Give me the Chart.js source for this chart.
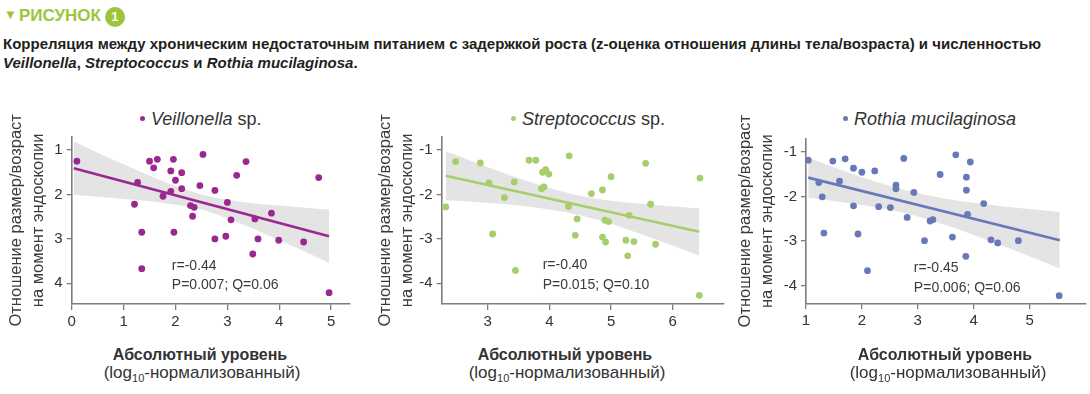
<!DOCTYPE html>
<html lang="ru">
<head>
<meta charset="utf-8">
<script src="https://cdn.jsdelivr.net/npm/chart.js@4.4.1/dist/chart.umd.min.js"></script>
<style>
  body { margin: 0; width: 1090px; height: 394px; background: #fff; position: relative; overflow: hidden; font-family: "Liberation Sans", Arial, sans-serif; color: #2b2b2b; }
  .head { position: absolute; left: 4px; top: 5px; color: #9dc53c; font-weight: bold; font-size: 17px; line-height: 20px; }
  .head .tri { font-size: 13px; vertical-align: 2px; margin-right: 2px; }
  .head .num { display: inline-block; width: 20px; height: 20px; border-radius: 50%; background: #9dc53c; color: #fff; font-size: 13px; line-height: 20px; text-align: center; margin-left: 4px; vertical-align: 0; }
  .caption { position: absolute; left: 3px; top: 34px; font-weight: bold; font-size: 15px; line-height: 19px; color: #231f20; white-space: nowrap; }
  .ptitle { position: absolute; top: 108px; font-size: 18px; line-height: 22px; color: #333; white-space: nowrap; }
  .ptitle .dot { display: inline-block; width: 5px; height: 5px; border-radius: 50%; margin-right: 6px; vertical-align: 4px; }
  .xt { position: absolute; width: 300px; text-align: center; color: #333; white-space: nowrap; }
  .xt1 { top: 345px; font-weight: bold; font-size: 16px; line-height: 20px; }
  .xt2 { top: 363px; font-size: 17px; line-height: 20px; }
  .xt2 sub { font-size: 11px; vertical-align: -4px; line-height: 0; }
  canvas { position: absolute; top: 95px; }
</style>
</head>
<body>
<div class="head"><span class="tri">&#9660;</span>РИСУНОК<span class="num">1</span></div>
<div class="caption">Корреляция между хроническим недостаточным питанием с задержкой роста (z-оценка отношения длины тела/возраста) и численностью<br><i>Veillonella</i>, <i>Streptococcus</i> и <i>Rothia mucilaginosa</i>.</div>

<div class="ptitle" style="left:140px"><span class="dot" style="background:#9b2790"></span><i>Veillonella</i> sp.</div>
<div class="ptitle" style="left:511px"><span class="dot" style="background:#a6ce6a"></span><i>Streptococcus</i> sp.</div>
<div class="ptitle" style="left:843px"><span class="dot" style="background:#6878b8"></span><i>Rothia mucilaginosa</i></div>

<canvas id="c1" width="360" height="250" style="left:0px"></canvas>
<canvas id="c2" width="370" height="250" style="left:365px"></canvas>
<canvas id="c3" width="365" height="250" style="left:725px"></canvas>

<div class="xt xt1" style="left:50px">Абсолютный уровень</div>
<div class="xt xt2" style="left:52px">(log<sub>10</sub>-нормализованный)</div>
<div class="xt xt1" style="left:415px">Абсолютный уровень</div>
<div class="xt xt2" style="left:417px">(log<sub>10</sub>-нормализованный)</div>
<div class="xt xt1" style="left:795px">Абсолютный уровень</div>
<div class="xt xt2" style="left:798px">(log<sub>10</sub>-нормализованный)</div>

<script>
// Veillonella sp.
const veilX = [0.10, 1.27, 1.21, 1.35, 1.35, 1.50, 1.58, 1.65, 1.76, 1.91, 1.91, 1.96, 2.00, 2.12, 2.12, 1.97, 2.29, 2.36,
  2.33, 2.47, 2.53, 2.76, 2.76, 2.97, 3.00, 3.07, 3.18, 3.36, 3.49, 3.53, 3.59, 3.85, 3.99, 4.47, 4.76, 4.96];
const veilY = [1.25, 1.73, 2.22, 2.85, 3.67, 1.25, 1.40, 1.21, 2.04, 1.47, 1.93, 1.21, 1.68, 1.51, 1.87, 2.85, 2.25, 2.29,
  2.49, 1.80, 1.10, 1.91, 3.00, 2.94, 2.18, 2.57, 1.57, 1.26, 3.34, 2.55, 3.00, 2.42, 3.03, 3.07, 1.62, 4.21];
const veilFitX = [0.04, 4.96];
const veilFitY = [1.41, 2.94];
const veilBandX = [0.04, 0.5, 1, 1.5, 2, 2.5, 3, 3.5, 4, 4.5, 4.96];
const veilBandHi = [0.81, 1.06, 1.32, 1.58, 1.81, 2.00, 2.12, 2.20, 2.25, 2.30, 2.34];
const veilBandLo = [2.01, 2.05, 2.10, 2.15, 2.23, 2.34, 2.54, 2.77, 3.03, 3.29, 3.54];
const veilStats = ['r=-0.44', 'P=0.007; Q=0.06'];

// Streptococcus sp.
const strepX = [2.32, 2.48, 2.88, 3.02, 3.08, 3.27, 3.43, 3.45, 3.67, 3.78, 3.89, 3.94, 3.99, 3.87, 3.91, 4.32, 4.31, 4.45,
  4.42, 4.68, 4.86, 4.90, 4.96, 4.86, 4.91, 5.00, 5.24, 5.27, 5.29, 5.37, 5.56, 5.64, 5.72, 6.44, 6.43];
const strepY = [-2.28, -1.26, -1.29, -1.74, -2.89, -2.07, -1.72, -3.71, -1.23, -1.23, -1.50, -1.44, -1.54, -1.87, -1.83, -1.13, -2.27, -2.55,
  -2.92, -1.98, -1.90, -2.58, -2.61, -2.96, -3.07, -1.60, -3.03, -3.38, -2.47, -3.06, -1.30, -2.22, -3.12, -1.63, -4.27];
const strepFitX = [2.32, 6.43];
const strepFitY = [-1.58, -2.84];
const strepBandX = [2.32, 2.8, 3.3, 3.8, 4.4, 5.0, 5.5, 6.0, 6.43];
const strepBandHi = [-1.03, -1.28, -1.54, -1.77, -2.00, -2.14, -2.21, -2.27, -2.31];
const strepBandLo = [-2.13, -2.17, -2.22, -2.30, -2.44, -2.66, -2.90, -3.15, -3.38];
const strepStats = ['r=-0.40', 'P=0.015; Q=0.10'];

// Rothia mucilaginosa
const rothX = [1.04, 1.23, 1.29, 1.32, 1.48, 1.60, 1.70, 1.85, 1.85, 1.93, 2.00, 2.10, 2.23, 2.30, 2.51, 2.61, 2.61, 2.75,
  2.81, 2.93, 3.12, 3.22, 3.27, 3.40, 3.62, 3.68, 3.94, 3.87, 3.87, 3.89, 3.86, 4.18, 4.31, 4.43, 4.80, 5.53];
const rothY = [-1.19, -1.69, -2.01, -2.82, -1.21, -1.66, -1.16, -1.37, -2.21, -2.84, -1.46, -3.66, -1.43, -2.23, -2.25, -1.75, -1.83, -1.15,
  -2.47, -1.91, -2.99, -2.55, -2.52, -1.51, -2.91, -1.07, -1.23, -1.57, -1.86, -2.40, -3.34, -2.16, -2.97, -3.04, -2.99, -4.22];
const rothFitX = [1.04, 5.54];
const rothFitY = [-1.58, -2.98];
const rothBandX = [1.04, 1.5, 2.0, 2.8, 3.5, 4.0, 4.5, 5.0, 5.54];
const rothBandHi = [-1.13, -1.35, -1.57, -1.87, -2.05, -2.14, -2.22, -2.28, -2.35];
const rothBandLo = [-2.03, -2.10, -2.19, -2.38, -2.64, -2.86, -3.10, -3.34, -3.61];
const rothStats = ['r=-0.45', 'P=0.006; Q=0.06'];

const xTicks1 = [0, 1, 2, 3, 4, 5];
const xTicks2 = [3, 4, 5, 6];
const xTicks3 = [1, 2, 3, 4, 5];
const yTicksPos = [1, 2, 3, 4];
const yTicksNeg = [-1, -2, -3, -4];
const yTitle = ['Отношение размер/возраст', 'на момент эндоскопии'];

const axisColor = '#7d7d7d';
const textColor = '#333';

const pts = (xs, ys) => xs.map((x, i) => ({ x: x, y: ys[i] }));

// r / P / Q text inside the plot
const statsPlugin = {
  id: 'stats',
  afterDatasetsDraw(chart, args, o) {
    const { ctx } = chart;
    const sx = chart.scales.x, sy = chart.scales.y;
    ctx.save();
    ctx.font = '14px "Liberation Sans", Arial, sans-serif';
    ctx.fillStyle = '#3a3a3a';
    ctx.textBaseline = 'middle';
    o.lines.forEach((t, i) => {
      ctx.fillText(t, sx.getPixelForValue(o.x), sy.getPixelForValue(o.y[i]));
    });
    ctx.restore();
  }
};

function makePanel(id, p) {
  return new Chart(document.getElementById(id), {
    type: 'scatter',
    data: {
      datasets: [
        { data: pts(p.xs, p.ys), backgroundColor: p.color, borderWidth: 0, pointRadius: 3.4 },
        { type: 'line', data: pts(p.fitX, p.fitY), borderColor: p.color, borderWidth: 2.7, pointRadius: 0, fill: false },
        { type: 'line', data: pts(p.bandX, p.hi), borderColor: 'rgba(0,0,0,0)', borderWidth: 0, pointRadius: 0,
          cubicInterpolationMode: 'monotone', fill: false },
        { type: 'line', data: pts(p.bandX, p.lo), borderColor: 'rgba(0,0,0,0)', borderWidth: 0, pointRadius: 0,
          cubicInterpolationMode: 'monotone', fill: '-1', backgroundColor: '#e4e4e4' }
      ]
    },
    options: {
      responsive: false,
      animation: false,
      events: [],
      layout: { padding: { top: p.padTop, right: p.padRight, left: 0, bottom: 0 } },
      plugins: {
        legend: { display: false },
        tooltip: { enabled: false },
        stats: { lines: p.stats, x: p.statX, y: p.statY }
      },
      scales: {
        x: {
          type: 'linear', min: p.xMin, max: p.xMax,
          afterBuildTicks: (s) => { s.ticks = p.xTicks.map((v) => ({ value: v })); },
          afterFit: (s) => { s.height = p.xH; },
          grid: { drawOnChartArea: false, drawTicks: true, tickLength: 6, color: axisColor, lineWidth: 1.3 },
          border: { color: axisColor, width: 1.6 },
          ticks: { color: textColor, padding: 3, font: { size: 15, family: '"Liberation Sans", Arial, sans-serif' } }
        },
        y: {
          type: 'linear', min: p.yMin, max: p.yMax, reverse: p.reverse,
          afterBuildTicks: (s) => { s.ticks = p.yTicks.map((v) => ({ value: v })); },
          afterFit: (s) => { s.width = p.yW; },
          grid: { drawOnChartArea: false, drawTicks: true, tickLength: 5, color: axisColor, lineWidth: 1.3 },
          border: { color: axisColor, width: 1.6 },
          ticks: { color: textColor, padding: 4, font: { size: 15, family: '"Liberation Sans", Arial, sans-serif' } },
          title: {
            display: true, text: yTitle, color: '#3a3a3a',
            font: { size: 16.5, family: '"Liberation Sans", Arial, sans-serif', lineHeight: 1.35 },
            padding: { top: p.titlePad, bottom: 0 }
          }
        }
      }
    },
    plugins: [statsPlugin]
  });
}

makePanel('c1', {
  xs: veilX, ys: veilY, fitX: veilFitX, fitY: veilFitY, bandX: veilBandX, hi: veilBandHi, lo: veilBandLo,
  color: '#9b2790', stats: veilStats, statX: 1.93, statY: [3.61, 4.04],
  xMin: 0, xMax: 5.35, yMin: 0.7, yMax: 4.465, reverse: true, xTicks: xTicks1, yTicks: yTicksPos,
  padTop: 41.7, padRight: 10.7, yW: 71.7, xH: 41, titlePad: 5.5
});
makePanel('c2', {
  xs: strepX, ys: strepY, fitX: strepFitX, fitY: strepFitY, bandX: strepBandX, hi: strepBandHi, lo: strepBandLo,
  color: '#a6ce6a', stats: strepStats, statX: 3.89, statY: [-3.60, -4.04],
  xMin: 2.254, xMax: 6.83, yMin: -4.465, yMax: -0.7, reverse: false, xTicks: xTicks2, yTicks: yTicksNeg,
  padTop: 41.7, padRight: 11, yW: 76.7, xH: 41, titlePad: 9
});
makePanel('c3', {
  xs: rothX, ys: rothY, fitX: rothFitX, fitY: rothFitY, bandX: rothBandX, hi: rothBandHi, lo: rothBandLo,
  color: '#6878b8', stats: rothStats, statX: 2.93, statY: [-3.61, -4.04],
  xMin: 1, xMax: 6.01, yMin: -4.39, yMax: -0.716, reverse: false, xTicks: xTicks3, yTicks: yTicksNeg,
  padTop: 44, padRight: 0, yW: 81, xH: 41.7, titlePad: 9
});
</script>
</body>
</html>
